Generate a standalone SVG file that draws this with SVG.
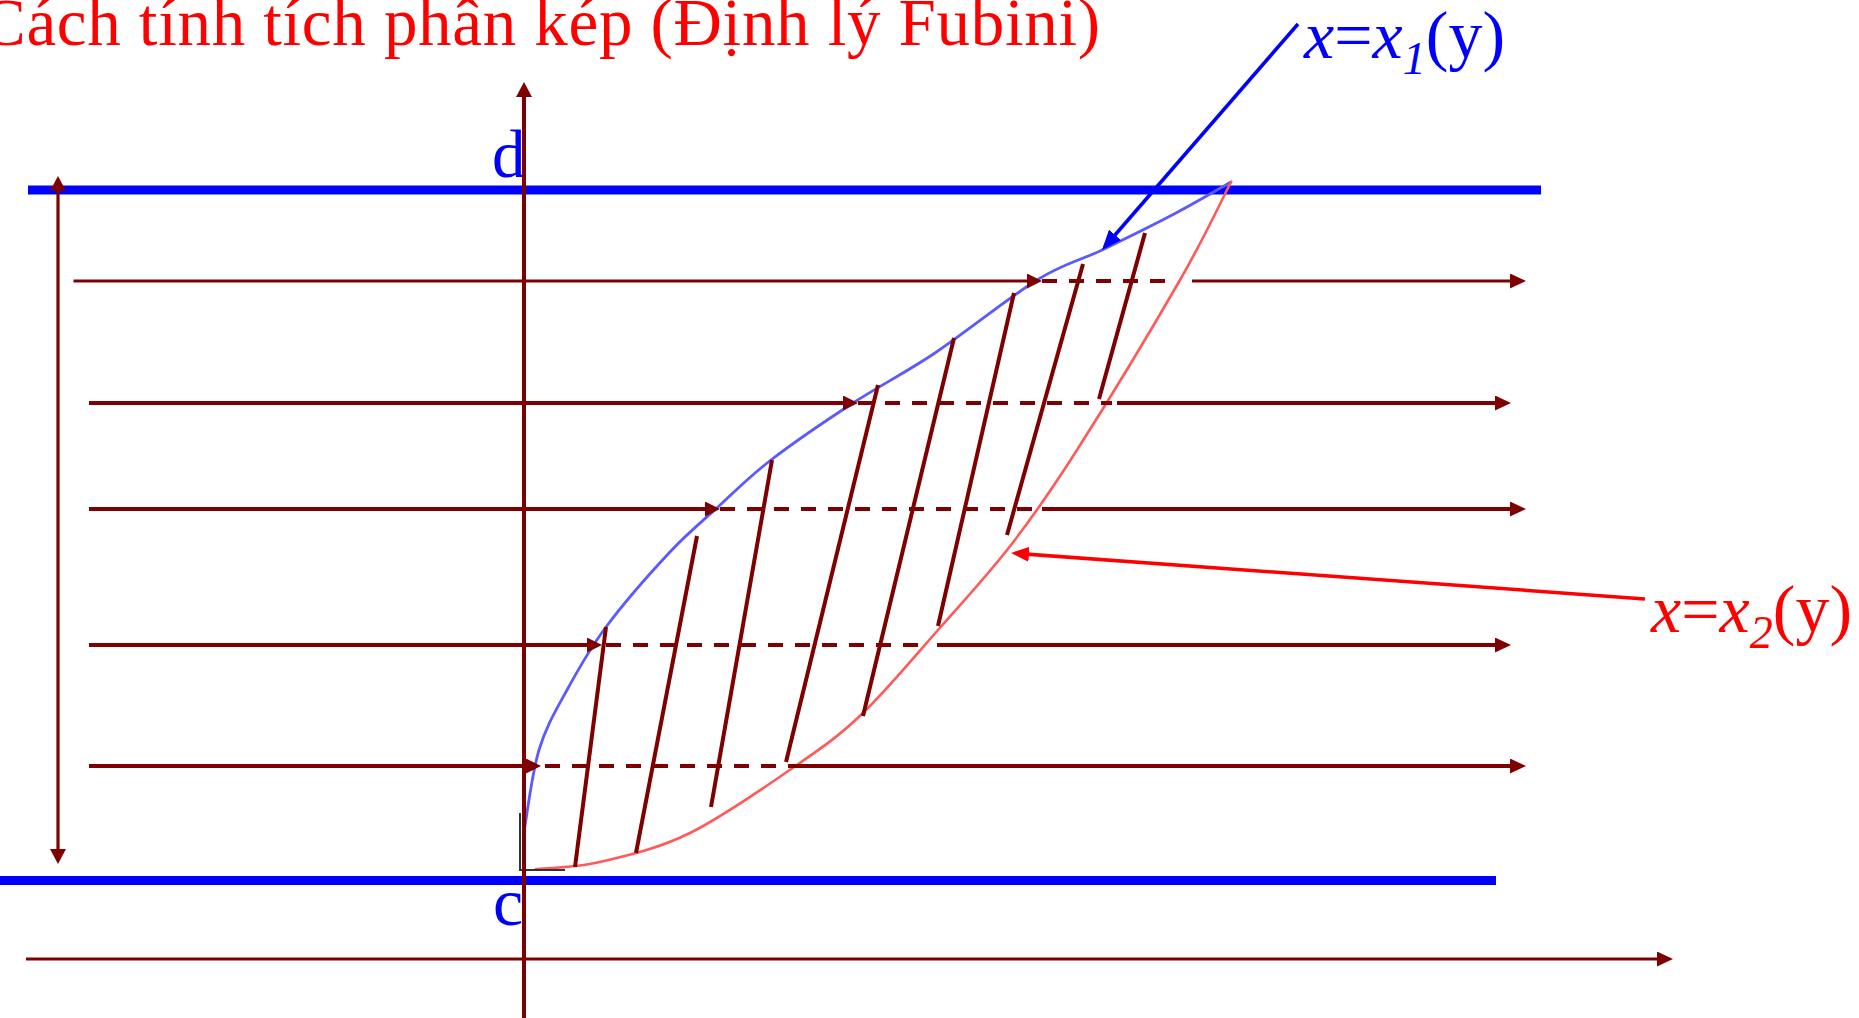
<svg xmlns="http://www.w3.org/2000/svg" width="1859" height="1018" viewBox="0 0 1859 1018">
<style>
.ln{stroke:#7f0000;stroke-width:4;fill:none}
.ln3{stroke:#7f0000;stroke-width:3.2;fill:none}
.dash{stroke:#7f0000;stroke-width:4;fill:none;stroke-dasharray:15 12}
.hatch{stroke:#7f0000;stroke-width:4;fill:none}
.bound{stroke:#0000ff;stroke-width:9;fill:none}
.txt{font-family:"Liberation Serif","Times New Roman",serif}
</style>
<defs>
<marker id="ah" markerUnits="userSpaceOnUse" markerWidth="16" markerHeight="15" refX="12" refY="7.5" orient="auto"><path d="M0,0 L16,7.5 L0,15 z" fill="#7f0000"/></marker>
<marker id="ahi" markerUnits="userSpaceOnUse" markerWidth="15" markerHeight="15" refX="11" refY="7.5" orient="auto"><path d="M0,0 L15,7.5 L0,15 z" fill="#7f0000"/></marker>
<marker id="ahv" markerUnits="userSpaceOnUse" markerWidth="15" markerHeight="16" refX="11" refY="8" orient="auto-start-reverse"><path d="M0,0 L15,8 L0,16 z" fill="#7f0000"/></marker>
<marker id="ahb" markerUnits="userSpaceOnUse" markerWidth="20" markerHeight="16" refX="16" refY="8" orient="auto"><path d="M0,0 L20,8 L0,16 z" fill="#0000ff"/></marker>
<marker id="ahr" markerUnits="userSpaceOnUse" markerWidth="18" markerHeight="15" refX="14" refY="7.5" orient="auto"><path d="M0,0 L18,7.5 L0,15 z" fill="#ff0000"/></marker>
</defs>

<g id="title"><text class="txt" x="-19" y="45" font-size="67" fill="#ff0000" textLength="1119">Cách tính tích phân kép (Định lý Fubini)</text></g>

<g id="bound-d"><line class="bound" x1="28" y1="190" x2="1541" y2="190"/></g>
<g id="bound-c"><line class="bound" x1="0" y1="880.5" x2="1496" y2="880.5"/></g>

<g id="region">
<path d="M524,832 C526.5,818.3 531.8,773.7 539,750 C546.2,726.3 555.8,710.5 567,690 C578.2,669.5 589,649.8 606,627 C623,604.2 650.3,573 669,553 C687.7,533 701,522.5 718,507 C735,491.5 748.5,477.3 771,460 C793.5,442.7 825.7,420.8 853,403 C880.3,385.2 904.3,373.5 935,353 C965.7,332.5 1009.2,297.2 1037,280 C1064.8,262.8 1078.8,261.2 1102,250 C1125.2,238.8 1154.5,224.3 1176,213 C1197.5,201.7 1221.8,187.2 1231,182" fill="none" stroke="#5a5aff" stroke-width="2.8" stroke-linecap="round"/>
<path d="M536,869 C546.7,867.8 574.3,868 600,862 C625.7,856 657.2,849.2 690,833 C722.8,816.8 768.2,785 797,765 C825.8,745 839.5,735.5 863,713 C886.5,690.5 913.3,658 938,630 C962.7,602 987.8,575 1011,545 C1034.2,515 1048.8,494.2 1077,450 C1105.2,405.8 1154.3,324.7 1180,280 C1205.7,235.3 1222.5,198.3 1231,182" fill="none" stroke="#ff5a5a" stroke-width="2.6" stroke-linecap="round"/>
<path d="M520,813 L520,870 L565,870" fill="none" stroke="#333333" stroke-width="2"/>
<line class="hatch" x1="606" y1="627" x2="575" y2="867"/>
<line class="hatch" x1="697" y1="536" x2="636" y2="853"/>
<line class="hatch" x1="772" y1="460" x2="711" y2="807"/>
<line class="hatch" x1="878" y1="385" x2="786" y2="762"/>
<line class="hatch" x1="954" y1="338" x2="863" y2="716"/>
<line class="hatch" x1="1014" y1="293" x2="938" y2="626"/>
<line class="hatch" x1="1083" y1="264" x2="1007" y2="535"/>
<line class="hatch" x1="1145" y1="233" x2="1099" y2="399"/>
</g>

<g id="label-d"><text class="txt" x="492" y="177" font-size="67" fill="#0000ff">d</text></g>
<g id="label-c"><text class="txt" x="493" y="925" font-size="68" fill="#0000ff">c</text></g>

<g id="label-x1"><text class="txt" x="1304" y="58" font-size="68" fill="#0000ff"><tspan font-style="italic">x</tspan>=<tspan font-style="italic">x</tspan><tspan font-style="italic" font-size="46" dy="16">1</tspan><tspan dy="-16">(y)</tspan></text></g>
<g id="label-x2"><text class="txt" x="1651" y="632" font-size="68" fill="#ff0000"><tspan font-style="italic">x</tspan>=<tspan font-style="italic">x</tspan><tspan font-style="italic" font-size="46" dy="16">2</tspan><tspan dy="-16">(y)</tspan></text></g>

<g id="connectors">
<line class="ln" x1="524" y1="1018" x2="524" y2="86" stroke-width="3.5" marker-end="url(#ahv)"/>
<line class="ln3" x1="26" y1="959" x2="1669" y2="959" marker-end="url(#ah)"/>
<line class="ln3" x1="58" y1="180" x2="58" y2="860" marker-start="url(#ahv)" marker-end="url(#ahv)"/>

<line class="ln3" x1="73.5" y1="281" x2="1038" y2="281" marker-end="url(#ahi)"/>
<line class="dash" x1="1042" y1="281" x2="1176" y2="281" stroke-width="3.5"/>
<line class="ln3" x1="1192" y1="281" x2="1522" y2="281" marker-end="url(#ah)"/>

<line class="ln" x1="89" y1="403" x2="854" y2="403" marker-end="url(#ahi)"/>
<line class="dash" x1="858" y1="403" x2="1112" y2="403"/>
<line class="ln" x1="1117" y1="403" x2="1507" y2="403" marker-end="url(#ah)"/>

<line class="ln" x1="89" y1="509" x2="716" y2="509" marker-end="url(#ahi)"/>
<line class="dash" x1="720" y1="509" x2="1039" y2="509"/>
<line class="ln" x1="1042" y1="509" x2="1522" y2="509" marker-end="url(#ah)"/>

<line class="ln" x1="89" y1="645" x2="598" y2="645" marker-end="url(#ahi)"/>
<line class="dash" x1="606" y1="645" x2="922" y2="645"/>
<line class="ln" x1="937" y1="645" x2="1507" y2="645" marker-end="url(#ah)"/>

<line class="ln" x1="89" y1="766" x2="537" y2="766" marker-end="url(#ahi)"/>
<line class="dash" x1="545" y1="766" x2="813" y2="766"/>
<line class="ln" x1="798" y1="766" x2="1522" y2="766" marker-end="url(#ah)"/>

<line x1="1298" y1="24" x2="1104.6" y2="247" stroke="#0000ff" stroke-width="3.5" marker-end="url(#ahb)"/>
<line x1="1645" y1="599" x2="1015" y2="553.3" stroke="#ff0000" stroke-width="3.5" marker-end="url(#ahr)"/>
</g>
</svg>
